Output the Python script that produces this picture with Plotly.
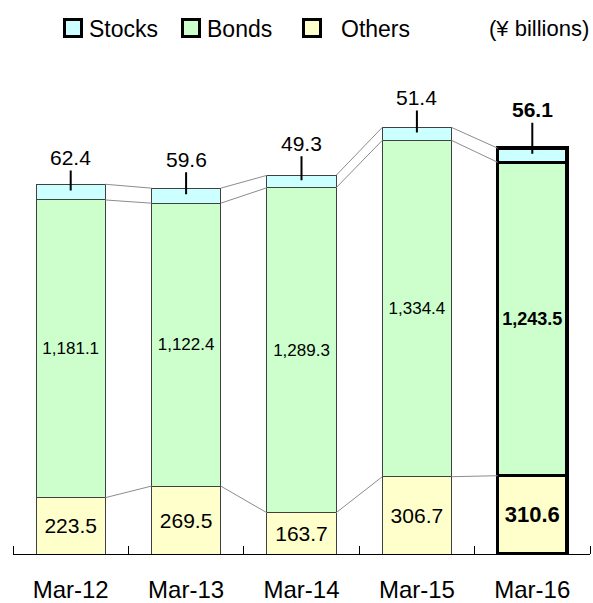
import plotly.graph_objects as go

periods = ["Mar-12", "Mar-13", "Mar-14", "Mar-15", "Mar-16"]
others = [223.5, 269.5, 163.7, 306.7, 310.6]
bonds = [1181.1, 1122.4, 1289.3, 1334.4, 1243.5]
stocks = [62.4, 59.6, 49.3, 51.4, 56.1]

FONT = "Arial, Liberation Sans, sans-serif"
W, H = 593, 603
L, R, T, B = 13, 3, 60, 49
x = list(range(len(periods)))
bw = 0.6
last = len(periods) - 1

line_col = ["#404040"] * last + ["black"]
line_w = [1] * last + [3.5]


def fmt(v, i):
    s = "{:,.1f}".format(v)
    return "<b>" + s + "</b>" if i == last else s


fig = go.Figure()

# gray connectors between bar levels
lo = others
mid = [o + b for o, b in zip(others, bonds)]
top = [m + s for m, s in zip(mid, stocks)]
for lvl in (lo, mid, top):
    cx, cy = [], []
    for i in range(len(x) - 1):
        cx += [x[i] + bw / 2, x[i + 1] - bw / 2, None]
        cy += [lvl[i], lvl[i + 1], None]
    fig.add_trace(go.Scatter(x=cx, y=cy, mode="lines", line=dict(color="#8c8c8c", width=1),
                             showlegend=False, hoverinfo="skip"))

fig.add_trace(go.Bar(x=x, y=others, width=bw, name="Others",
                     marker=dict(color="#FFFFCC", line=dict(color=line_col, width=line_w)),
                     text=[fmt(v, i) for i, v in enumerate(others)], textposition="inside",
                     insidetextanchor="middle", constraintext="none",
                     textfont=dict(family=FONT, size=[21] * last + [22], color="black")))
fig.add_trace(go.Bar(x=x, y=bonds, width=bw, name="Bonds",
                     marker=dict(color="#CCFFCC", line=dict(color=line_col, width=line_w)),
                     text=[fmt(v, i) for i, v in enumerate(bonds)], textposition="inside",
                     insidetextanchor="middle", constraintext="none",
                     textfont=dict(family=FONT, size=[17] * last + [18], color="black")))
fig.add_trace(go.Bar(x=x, y=stocks, width=bw, name="Stocks",
                     marker=dict(color="#CCFFFF", line=dict(color=line_col, width=line_w))))

# stocks value labels with leader lines
offs = [-33, -35, -37, -35, -44]
for i in x:
    fig.add_annotation(x=x[i], y=mid[i] + stocks[i] * 0.6, text=fmt(stocks[i], i),
                       showarrow=True, arrowhead=0, arrowwidth=2, arrowcolor="black",
                       ax=0, ay=offs[i], standoff=0,
                       font=dict(family=FONT, size=21, color="black"))


# legend drawn by hand (pixel -> paper)
def px(v):
    return (v - L) / (W - L - R)


def py(v):
    return (H - B - v) / (H - T - B)


legend = [("Stocks", "#CCFFFF", 63, 87), ("Bonds", "#CCFFCC", 181, 205), ("Others", "#FFFFCC", 302, 339)]
for name, col, sx, tx in legend:
    fig.add_shape(type="rect", xref="paper", yref="paper", x0=px(sx + 1.5), x1=px(sx + 18.5),
                  y0=py(19.5), y1=py(36.5), fillcolor=col, line=dict(color="black", width=3))
    fig.add_annotation(xref="paper", yref="paper", x=px(tx), y=py(29), text=name, showarrow=False,
                       xanchor="left", yanchor="middle", font=dict(family=FONT, size=23, color="black"))
fig.add_annotation(xref="paper", yref="paper", x=px(591), y=py(28), text="(¥ billions)", showarrow=False,
                   xanchor="right", yanchor="middle", font=dict(family=FONT, size=22, color="black"))

fig.update_layout(
    width=W, height=H, barmode="stack", showlegend=False,
    margin=dict(l=L, r=R, t=T, b=B, autoexpand=False), paper_bgcolor="white", plot_bgcolor="white",
    font=dict(family=FONT, color="black"),
)
fig.update_xaxes(range=[-0.5, 4.5], tickvals=x, ticktext=periods, ticks="", showline=True,
                 linecolor="black", linewidth=1, showgrid=False, zeroline=False, automargin=False,
                 tickfont=dict(family=FONT, size=24, color="black"), ticklabelstandoff=14,
                 minor=dict(tickvals=[i - 0.5 for i in range(len(x) + 1)], ticks="inside",
                            ticklen=8, tickcolor="black", tickwidth=1, showgrid=False))
fig.update_yaxes(range=[0, 1960], visible=False)

# page body has a default margin; drop it so the figure fills the window
fig.write_html("out.html", config={"displayModeBar": False},
               post_script="document.body.style.margin='0';")
